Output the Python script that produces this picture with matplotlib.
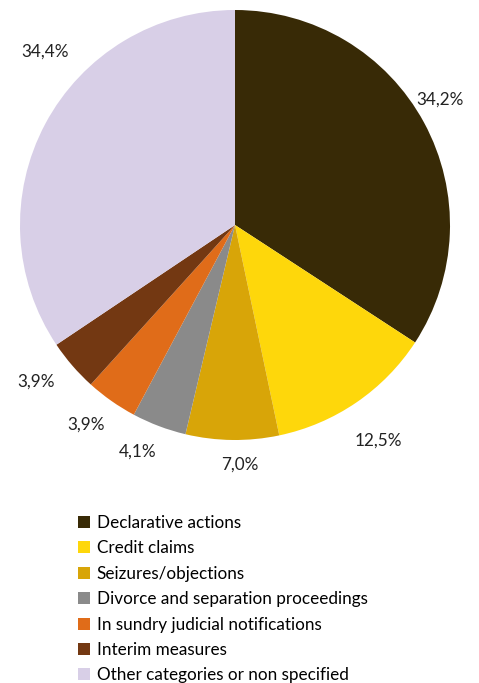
import matplotlib.pyplot as plt

plt.rcParams['font.family'] = ['Lato', 'DejaVu Sans']

categories = ['Declarative actions', 'Credit claims', 'Seizures/objections',
              'Divorce and separation proceedings', 'In sundry judicial notifications',
              'Interim measures', 'Other categories or non specified']
shares = [34.2, 12.5, 7.0, 4.1, 3.9, 3.9, 34.4]
labels = ['34,2%', '12,5%', '7,0%', '4,1%', '3,9%', '3,9%', '34,4%']
colors = ['#382a06', '#fed70b', '#d8a508', '#8a8a8a', '#e06c19', '#733812', '#d8cfe7']

# label centres in pixels of the reference, turned into pie units below
label_px = [(440, 100), (378, 441), (240, 465), (138, 452), (86, 425), (36, 382), (45, 52)]

fig = plt.figure(figsize=(4.79, 6.83), dpi=100)
ax = fig.add_axes([20 / 479, 1 - 440 / 683, 430 / 479, 430 / 683])

wedges, _ = ax.pie(shares, colors=colors, startangle=90, counterclock=False,
                   radius=1, wedgeprops=dict(linewidth=0))
ax.set_xlim(-1, 1)
ax.set_ylim(-1, 1)
ax.set_aspect('auto')

for lab, (px, py) in zip(labels, label_px):
    ax.text((px - 235) / 215, (225 - py) / 215, lab, ha='center', va='center',
            fontsize=12.3, color='#222222', clip_on=False)

fig.legend(wedges, categories, loc='upper left', bbox_to_anchor=(78 / 479, 1 - 515 / 683),
           frameon=False, borderpad=0, borderaxespad=0, fontsize=12.3,
           handlelength=0.7, handleheight=0.7, handletextpad=0.4, labelspacing=0.55)

plt.savefig('out.png', dpi=100)
